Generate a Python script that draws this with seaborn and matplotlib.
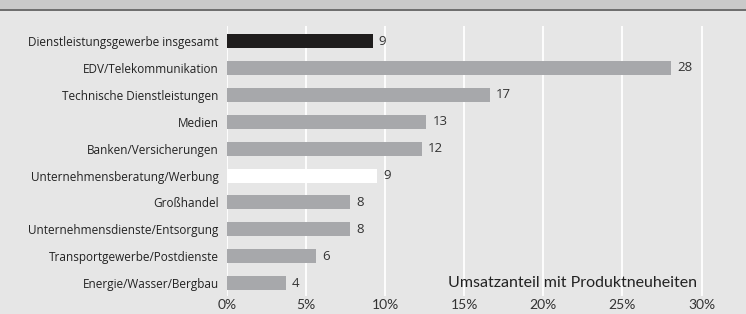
import matplotlib
matplotlib.use("Agg")
import matplotlib.pyplot as plt
import seaborn as sns
import pandas as pd
from matplotlib.patches import Rectangle

categories = [
    "Dienstleistungsgewerbe insgesamt",
    "EDV/Telekommunikation",
    "Technische Dienstleistungen",
    "Medien",
    "Banken/Versicherungen",
    "Unternehmensberatung/Werbung",
    "Großhandel",
    "Unternehmensdienste/Entsorgung",
    "Transportgewerbe/Postdienste",
    "Energie/Wasser/Bergbau",
]
values = [9.2, 28.1, 16.6, 12.6, 12.3, 9.5, 7.8, 7.8, 5.6, 3.7]
value_labels = ["9", "28", "17", "13", "12", "9", "8", "8", "6", "4"]
bar_colors = ["#1f1d1d", "#a7a8ab", "#a7a8ab", "#a7a8ab", "#a7a8ab",
              "#ffffff", "#a7a8ab", "#a7a8ab", "#a7a8ab", "#a7a8ab"]
x_ticks = [0, 5, 10, 15, 20, 25, 30]
x_tick_labels = ["0%", "5%", "10%", "15%", "20%", "25%", "30%"]
axis_title = "Umsatzanteil mit Produktneuheiten"

df = pd.DataFrame({"cat": categories, "val": values})

sns.set_theme(style="white")
plt.rcParams["font.family"] = ["Open Sans", "DejaVu Sans"]

BG = "#e6e6e6"
W, H = 746, 314
fig = plt.figure(figsize=(W / 100, H / 100), dpi=100, facecolor=BG)

# header strip
fig.patches.append(Rectangle((0, 1 - 9.5 / H), 1, 9.5 / H, transform=fig.transFigure,
                             facecolor="#c9c9c9", edgecolor="none", zorder=0))
fig.patches.append(Rectangle((0, 1 - 11 / H), 1, 1.6 / H, transform=fig.transFigure,
                             facecolor="#6f6f6f", edgecolor="none", zorder=0))

left, right, top, bottom = 227, 730, 26, 296
ax = fig.add_axes([left / W, (H - bottom) / H, (right - left) / W, (bottom - top) / H])
ax.set_facecolor(BG)

sns.barplot(data=df, y="cat", x="val", hue="cat", palette=dict(zip(categories, bar_colors)),
            orient="h", width=0.52, legend=False, ax=ax, saturation=1, linewidth=0)

ax.set_xlim(0, 31.8)
ax.set_ylim(9.48, -0.56)
ax.set_xticks(x_ticks)
ax.set_xticklabels(x_tick_labels, fontsize=10, color="#333333", family=["Lato", "DejaVu Sans"])
ax.tick_params(axis="x", length=0, pad=2)
ax.tick_params(axis="y", length=0, pad=6, labelsize=8.5, labelcolor="#222222")
ax.set_xlabel("")
ax.set_ylabel("")
for s in ax.spines.values():
    s.set_visible(False)
ax.set_axisbelow(True)
ax.xaxis.grid(True, color="white", linewidth=1.3)
ax.yaxis.grid(False)

for i, (v, lab) in enumerate(zip(values, value_labels)):
    ax.annotate(lab, xy=(v, i), xytext=(4.5, 0), textcoords="offset points",
                va="center", ha="left", fontsize=9.5, color="#333333")

ax.text(0.686, 0.048, axis_title, transform=ax.transAxes, ha="center", va="center",
        fontsize=11.5, color="#222222", family=["Lato", "DejaVu Sans"])

fig.savefig("out.png", dpi=100, facecolor=BG)
